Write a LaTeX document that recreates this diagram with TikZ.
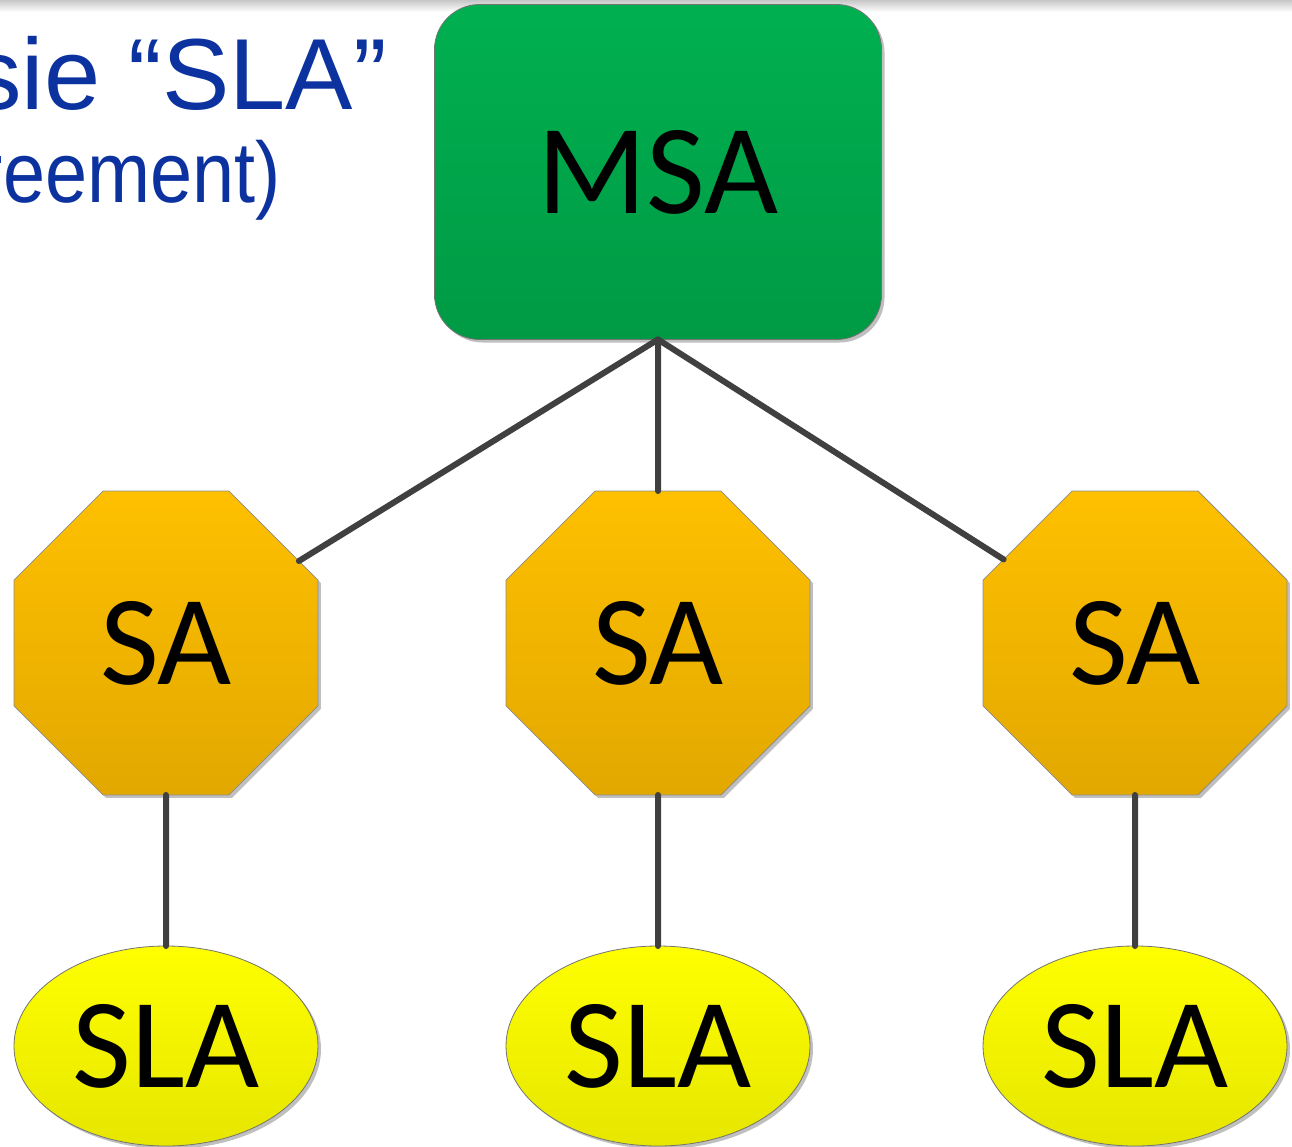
\documentclass[tikz,border=0pt]{standalone}
\usepackage{fontspec}
\setmainfont{Carlito}
\newfontfamily\titlefont{Liberation Sans}
\usetikzlibrary{shapes.geometric,shadows}

\definecolor{msatop}{HTML}{00B050}
\definecolor{msabot}{HTML}{009A44}
\definecolor{satop}{HTML}{FFC000}
\definecolor{sabot}{HTML}{E2A800}
\definecolor{slatop}{HTML}{FFFF00}
\definecolor{slabot}{HTML}{E6E600}
\definecolor{linkgray}{HTML}{404040}
\definecolor{titleblue}{HTML}{0C329F}

\begin{document}
\begin{tikzpicture}[
    x=1pt, y=-1pt,
    shape shadow/.style={drop shadow={shadow xshift=3pt, shadow yshift=-3pt, opacity=0.25, fill=black}},
    master/.style={rectangle, rounded corners=45pt, minimum width=447pt, minimum height=335pt,
        top color=msatop, bottom color=msabot, draw=black!55, line width=0.8pt,
        inner sep=0pt, outer sep=0pt, shape shadow},
    service/.style={regular polygon, regular polygon sides=8, minimum size=329pt,
        top color=satop, bottom color=sabot, draw=black!45, line width=0.8pt,
        inner sep=0pt, outer sep=0pt, shape shadow},
    level/.style={ellipse, minimum width=304pt, minimum height=200pt,
        top color=slatop, bottom color=slabot, draw=black!55, line width=0.8pt,
        inner sep=0pt, outer sep=0pt, shape shadow},
    big/.style={font=\fontsize{128}{150}\selectfont},
    link/.style={line width=6pt, draw=linkgray, line cap=round},
    title/.style={titleblue, inner sep=0pt, anchor=base east}
]
    \useasboundingbox (0,0) rectangle (1292,1147);

    % slide edge and cut-off title
    \shade[top color=black!22, bottom color=white] (0,0) rectangle (1292,12);
    \begin{scope}
        \clip (0,0) rectangle (1292,1147);
        \node[title, font=\titlefont\fontsize{101}{110}\selectfont] (head) at (387,110) {sie “SLA”};
        \node[title, font=\titlefont\fontsize{86}{96}\selectfont, xscale=0.88, transform shape] (sub) at (281,203) {reement)};
    \end{scope}

    % Master agreement
    \node[master, big] (msa) at (658,172) {MSA};

    % Service agreements
    \node[service, big] (saA) at (166,643) {SA};
    \node[service, big] (saB) at (658,643) {SA};
    \node[service, big] (saC) at (1135,643) {SA};

    % Service level agreements
    \node[level, big] (slaA) at (166,1046) {SLA};
    \node[level, big] (slaB) at (658,1046) {SLA};
    \node[level, big] (slaC) at (1135,1046) {SLA};

    % Links
    \draw[link] (msa.south) -- (saA);
    \draw[link] (msa.south) -- (saB.north);
    \draw[link] (msa.south) -- (saC);
    \draw[link] (saA.south) -- (slaA.north);
    \draw[link] (saB.south) -- (slaB.north);
    \draw[link] (saC.south) -- (slaC.north);
\end{tikzpicture}
\end{document}
